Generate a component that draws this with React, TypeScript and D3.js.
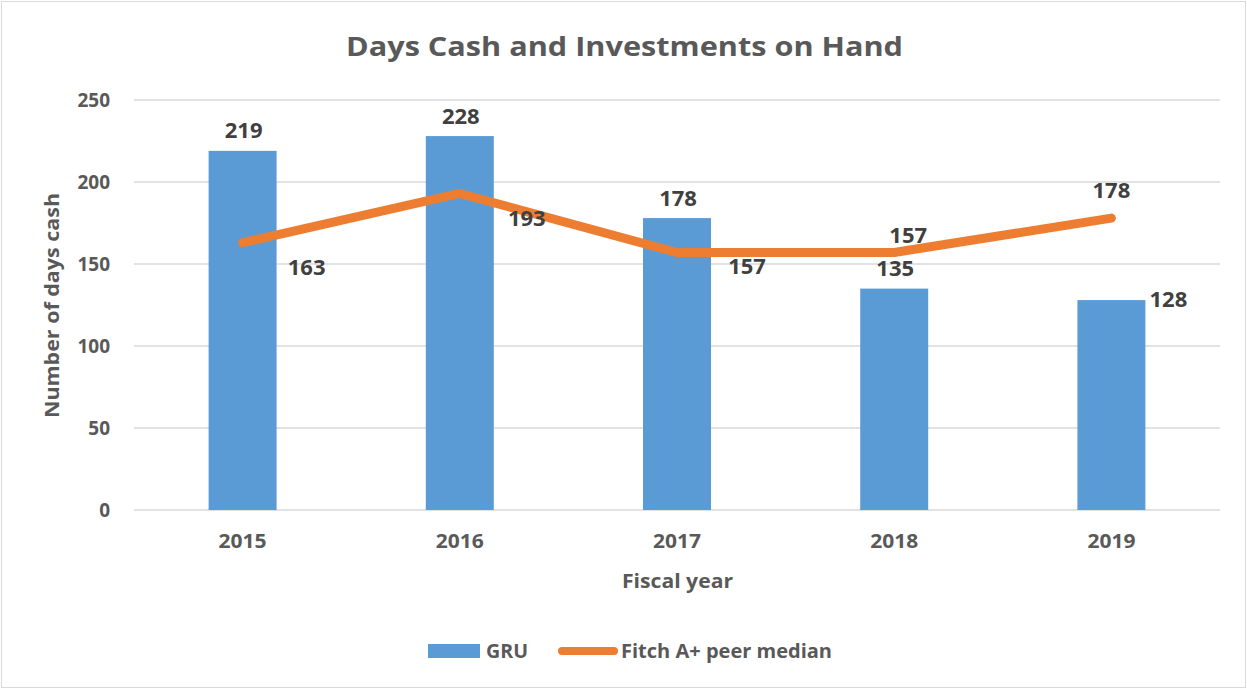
import React from "react";
import * as d3 from "d3";

const years = ["2015", "2016", "2017", "2018", "2019"];
const gruValues = [219, 228, 178, 135, 128];
const peerValues = [163, 193, 157, 157, 178];
const yTicks = [0, 50, 100, 150, 200, 250];

const W = 1247;
const H = 689;
const FONT = "'Open Sans', Lato, sans-serif";

export default function App() {
  const x = d3.scaleBand<string>().domain(years).range([134, 1220]).paddingInner(0).paddingOuter(0);
  const y = d3.scaleLinear().domain([0, 250]).range([510, 100]);
  const bw = x.bandwidth();
  const barW = bw * 0.313;
  const cx = (d: string) => (x(d) as number) + bw / 2;
  const line = d3
    .line<number>()
    .x((_, i) => cx(years[i]))
    .y((v) => y(v));

  // label placements (dx, dy baseline relative to point) for line labels
  const peerLabelOffsets = [
    [64, 32],
    [67, 33],
    [70, 21.5],
    [14, -9.5],
    [0, -20],
  ];

  return (
    <svg
      width={W}
      height={H}
      style={{ position: "absolute", left: 0, top: 0, background: "#fff" }}
      fontFamily={FONT}
    >
      <rect x={1.5} y={1.5} width={W - 3} height={H - 3} fill="#fff" stroke="#d9d9d9" strokeWidth={1} />
      <text x={346} y={56} fontSize={27} fontWeight="bold" fill="#595959" textLength={557} lengthAdjust="spacingAndGlyphs">
        Days Cash and Investments on Hand
      </text>
      {yTicks.map((t) => (
        <g key={t}>
          <line x1={134} x2={1220} y1={y(t)} y2={y(t)} stroke="#d9d9d9" strokeWidth={1.5} />
          <text x={110} y={y(t) + 7} textAnchor="end" fontSize={19} fontWeight="bold" fill="#595959">
            {t}
          </text>
        </g>
      ))}
      {years.map((yr, i) => (
        <rect
          key={yr}
          x={cx(yr) - barW / 2}
          y={y(gruValues[i])}
          width={barW}
          height={y(0) - y(gruValues[i])}
          fill="#5B9BD5"
        />
      ))}
      {years.map((yr) => (
        <text
          key={yr}
          x={cx(yr) - 24}
          y={548}
          fontSize={19}
          fontWeight="bold"
          fill="#595959"
          textLength={48}
          lengthAdjust="spacingAndGlyphs"
        >
          {yr}
        </text>
      ))}
      <path d={line(peerValues) || ""} fill="none" stroke="#ED7D31" strokeWidth={9} strokeLinecap="round" strokeLinejoin="round" />
      {years.map((yr, i) => {
        const isLast = i === years.length - 1;
        return (
          <text
            key={"g" + yr}
            x={isLast ? cx(yr) + barW / 2 + 23 : cx(yr) + 1}
            y={isLast ? y(gruValues[i]) + 7 : y(gruValues[i]) - 12.5}
            textAnchor="middle"
            fontSize={22}
            fontWeight="bold"
            fill="#404040"
          >
            {gruValues[i]}
          </text>
        );
      })}
      {years.map((yr, i) => (
        <text
          key={"p" + yr}
          x={cx(yr) + peerLabelOffsets[i][0]}
          y={y(peerValues[i]) + peerLabelOffsets[i][1]}
          textAnchor="middle"
          fontSize={22}
          fontWeight="bold"
          fill="#404040"
        >
          {peerValues[i]}
        </text>
      ))}
      <text x={622} y={588} fontSize={20} fontWeight="bold" fill="#595959" textLength={111} lengthAdjust="spacingAndGlyphs">
        Fiscal  year
      </text>
      <text
        transform={`translate(59,${418}) rotate(-90)`}
        fontSize={20}
        fontWeight="bold"
        fill="#595959"
        textLength={225}
        lengthAdjust="spacingAndGlyphs"
      >
        Number of days cash
      </text>
      <rect x={428} y={644} width={52} height={14} fill="#5B9BD5" />
      <text x={486} y={658} fontSize={19} fontWeight="bold" fill="#595959" textLength={42} lengthAdjust="spacingAndGlyphs">
        GRU
      </text>
      <line x1={562} x2={614} y1={651} y2={651} stroke="#ED7D31" strokeWidth={8} strokeLinecap="round" />
      <text x={621} y={658} fontSize={19} fontWeight="bold" fill="#595959" textLength={211} lengthAdjust="spacingAndGlyphs">
        Fitch A+ peer median
      </text>
    </svg>
  );
}
